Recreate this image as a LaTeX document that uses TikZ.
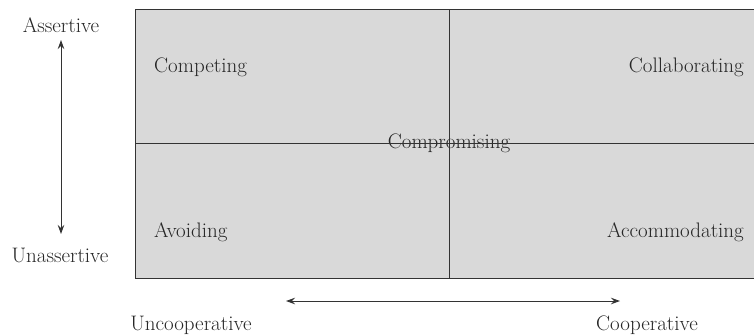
\documentclass[tikz,border=0pt]{standalone}
\usetikzlibrary{arrows.meta}
\begin{document}
\begin{tikzpicture}[x=1pt,y=-1pt,
		mode/.style={font=\fontsize{21}{25}\selectfont, text=black!85, inner sep=0pt},
		grid/.style={draw=black!80, line width=1pt},
		axis/.style={draw=black!80, line width=.9pt, {Stealth[length=9pt,width=6.5pt,inset=3pt]}-{Stealth[length=9pt,width=6.5pt,inset=3pt]}}]
			\useasboundingbox (0,0) rectangle (754,335);

			\fill[black!15] (135,9.5) rectangle (754,278);
			\draw[grid] (754,9.5) -- (135,9.5) -- (135,278) -- (754,278);

			\coordinate (midL) at (135,143.5);
			\coordinate (midR) at (754,143.5);
			\coordinate (midT) at (449,9.5);
			\coordinate (midB) at (449,278);

				\node[mode, anchor=base west] (competing) at (154,72){Competing};
				\node[mode, anchor=base east] (collab) at (744,72){Collaborating};
				\node[mode, anchor=base west] (avoiding) at (154,237){Avoiding};
				\node[mode, anchor=base east] (accom) at (744,237){Accommodating};
				\node[mode, anchor=base] (comprom) at (449,148){Compromising};

			\draw[grid] (midL) to (midR);
			\draw[grid] (midT) to (midB);

			\node[mode, anchor=base] (assert) at (61,32){Assertive};
			\node[mode, anchor=base] (unassert) at (60,262){Unassertive};
			\coordinate (vtop) at (61,40);
			\coordinate (vbot) at (61,234);
			\draw[axis] (vtop) to (vbot);

			\node[mode, anchor=base] (uncoop) at (191,330){Uncooperative};
			\node[mode, anchor=base] (coop) at (647,330){Cooperative};
			\coordinate (hleft) at (286,301);
			\coordinate (hright) at (620,301);
			\draw[axis] (hleft) to (hright);
		\end{tikzpicture}
\end{document}
